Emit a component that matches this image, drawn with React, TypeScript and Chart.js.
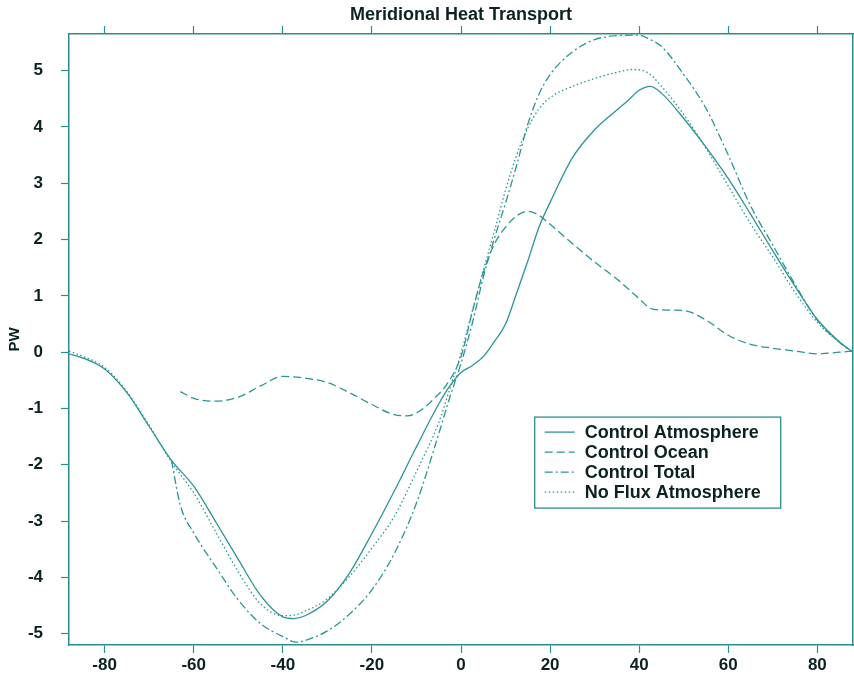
import { useEffect, useRef } from "react";
import { Chart, registerables } from "chart.js";

Chart.register(...registerables);

const TITLE = "Meridional Heat Transport";
const Y_TITLE = "PW";
const X_TICKS = [-80, -60, -40, -20, 0, 20, 40, 60, 80];
const Y_TICKS = [-5, -4, -3, -2, -1, 0, 1, 2, 3, 4, 5];
const X_MIN = -88;
const X_MAX = 88;
const Y_MIN = -5.2;
const Y_MAX = 5.65;

const SERIES_NAMES = ["Control Atmosphere", "Control Ocean", "Control Total", "No Flux Atmosphere"];

const atmLat = [-88, -85, -80, -75, -70, -65, -60, -55, -50, -45, -40, -37.5, -35, -30, -25, -20, -15, -10, -5, -2.5, 0, 2.5, 5, 7.5, 10, 12.5, 15, 17.5, 20, 25, 30, 35, 37.5, 40, 42.5, 45, 50, 55, 60, 65, 70, 75, 80, 85, 88];
const atmPW = [-0.03, -0.1, -0.3, -0.72, -1.32, -1.92, -2.38, -3.02, -3.68, -4.32, -4.7, -4.73, -4.68, -4.42, -3.92, -3.22, -2.47, -1.68, -0.92, -0.6, -0.36, -0.24, -0.08, 0.19, 0.5, 1.05, 1.62, 2.22, 2.66, 3.45, 3.95, 4.3, 4.47, 4.65, 4.72, 4.6, 4.15, 3.64, 3.08, 2.45, 1.8, 1.17, 0.58, 0.18, 0];

const oceanLat = [-63, -60, -55, -50, -45, -40, -35, -30, -25, -20, -15, -12, -9, -6, -3, 0, 2.5, 5, 7.5, 10, 12.5, 15, 17.5, 20, 25, 30, 35, 40, 42.5, 45, 50, 55, 60, 65, 70, 75, 80, 85, 88];
const oceanPW = [-0.7, -0.82, -0.87, -0.8, -0.6, -0.43, -0.46, -0.54, -0.72, -0.93, -1.11, -1.13, -1.03, -0.82, -0.55, -0.08, 0.7, 1.42, 1.92, 2.22, 2.42, 2.5, 2.43, 2.27, 1.93, 1.6, 1.3, 0.95, 0.78, 0.75, 0.74, 0.57, 0.3, 0.14, 0.07, 0.02, -0.03, 0, 0.02];

const totalLat = [-65, -63, -60, -55, -50, -45, -40, -37, -35, -30, -25, -20, -15, -10, -5, -2.5, 0, 2.5, 5, 7.5, 10, 12.5, 15, 17.5, 20, 25, 30, 35, 40, 42.5, 45, 50, 55, 60, 65, 70, 75, 80, 85, 88];
const totalPW = [-1.92, -2.72, -3.21, -3.82, -4.4, -4.82, -5.05, -5.15, -5.12, -4.95, -4.65, -4.22, -3.58, -2.68, -1.45, -0.8, -0.2, 0.5, 1.33, 2.02, 2.65, 3.32, 4.05, 4.58, 4.93, 5.33, 5.55, 5.62, 5.63, 5.55, 5.43, 4.93, 4.33, 3.5, 2.6, 1.9, 1.2, 0.57, 0.17, 0];

const noFluxLat = [-88, -85, -80, -75, -70, -65, -60, -55, -50, -45, -40, -37.5, -35, -30, -25, -20, -15, -10, -5, -2.5, 0, 2.5, 5, 7.5, 10, 12.5, 15, 17.5, 20, 25, 30, 35, 38.5, 42, 45, 50, 55, 60, 65, 70, 75, 80, 85, 88];
const noFluxPW = [0.02, -0.07, -0.27, -0.7, -1.3, -1.95, -2.5, -3.2, -3.9, -4.47, -4.68, -4.67, -4.6, -4.38, -3.98, -3.48, -2.92, -2.12, -1.25, -0.65, -0.02, 0.72, 1.45, 2.15, 2.88, 3.5, 3.98, 4.32, 4.52, 4.72, 4.86, 4.97, 5.02, 4.96, 4.72, 4.22, 3.62, 2.95, 2.28, 1.69, 1.06, 0.53, 0.17, 0];

const LINE = "#2c9494";
const FRAME = "#2a8e8e";
const TEXT = "#0c2222";
const FONT = "'Liberation Sans', Arial, Helvetica, sans-serif";

const toPoints = (xs: number[], ys: number[]) => xs.map((x, i) => ({ x, y: ys[i] }));

const legendPlugin = {
  id: "boxLegend",
  afterDraw(chart: any) {
    const { ctx, chartArea: a } = chart;
    const w = a.right - a.left;
    const h = a.bottom - a.top;
    const x0 = a.left + w * 0.594;
    const y0 = a.top + h * 0.627;
    const bw = 246;
    const bh = 91;
    ctx.save();
    ctx.fillStyle = "#ffffff";
    ctx.fillRect(x0, y0, bw, bh);
    ctx.strokeStyle = FRAME;
    ctx.lineWidth = 1.3;
    ctx.setLineDash([]);
    ctx.strokeRect(x0, y0, bw, bh);
    chart.data.datasets.forEach((ds: any, i: number) => {
      const y = y0 + 15 + i * 20;
      ctx.strokeStyle = ds.borderColor;
      ctx.lineWidth = ds.borderWidth;
      ctx.setLineDash(ds.borderDash || []);
      ctx.beginPath();
      ctx.moveTo(x0 + 10, y);
      ctx.lineTo(x0 + 40, y);
      ctx.stroke();
      ctx.setLineDash([]);
      ctx.fillStyle = TEXT;
      ctx.font = `bold 18px ${FONT}`;
      ctx.textBaseline = "middle";
      ctx.textAlign = "left";
      ctx.fillText(ds.label, x0 + 50, y + 1);
    });
    ctx.restore();
  },
};

export default function App() {
  const ref = useRef<HTMLCanvasElement | null>(null);

  useEffect(() => {
    if (!ref.current) return;
    const setXTicks = (ax: any) => {
      ax.ticks = X_TICKS.map((v) => ({ value: v }));
    };
    const setYTicks = (ax: any) => {
      ax.ticks = Y_TICKS.map((v) => ({ value: v }));
    };
    const grid = { drawOnChartArea: false, color: FRAME, tickLength: 8, tickWidth: 1.2 };
    const border = { color: FRAME, width: 1.5 };
    const base = {
      borderColor: LINE,
      borderWidth: 1.3,
      pointRadius: 0,
      fill: false,
      cubicInterpolationMode: "monotone" as const,
    };
    const chart = new Chart(ref.current, {
      type: "line",
      data: {
        datasets: [
          { ...base, label: SERIES_NAMES[0], data: toPoints(atmLat, atmPW), borderDash: [] },
          { ...base, label: SERIES_NAMES[1], data: toPoints(oceanLat, oceanPW), borderDash: [8, 4] },
          { ...base, label: SERIES_NAMES[2], data: toPoints(totalLat, totalPW), borderDash: [8, 3, 2, 3] },
          { ...base, label: SERIES_NAMES[3], data: toPoints(noFluxLat, noFluxPW), borderDash: [1.5, 2.5] },
        ],
      },
      options: {
        responsive: false,
        animation: false,
        layout: { padding: 0 },
        plugins: {
          legend: { display: false },
          tooltip: { enabled: false },
          title: { display: false },
        },
        scales: {
          x: {
            type: "linear",
            position: "bottom",
            min: X_MIN,
            max: X_MAX,
            afterBuildTicks: setXTicks,
            afterFit: (ax: any) => {
              ax.height = 34;
            },
            grid,
            border,
            ticks: {
              color: TEXT,
              font: { family: FONT, size: 17, weight: "bold" },
              padding: 2,
              maxRotation: 0,
              autoSkip: false,
              callback: (v: any) => String(v),
            },
          },
          xTop: {
            type: "linear",
            position: "top",
            min: X_MIN,
            max: X_MAX,
            afterBuildTicks: setXTicks,
            afterFit: (ax: any) => {
              ax.height = 34;
            },
            grid,
            border,
            ticks: { display: false },
            title: {
              display: true,
              text: TITLE,
              color: TEXT,
              font: { family: FONT, size: 18, weight: "bold" },
              padding: { top: 4, bottom: 0 },
            },
          },
          y: {
            type: "linear",
            position: "left",
            min: Y_MIN,
            max: Y_MAX,
            afterBuildTicks: setYTicks,
            afterFit: (ax: any) => {
              ax.width = 69;
            },
            grid,
            border,
            ticks: {
              color: TEXT,
              font: { family: FONT, size: 17, weight: "bold" },
              padding: 18,
              callback: (v: any) => String(v),
            },
            title: {
              display: true,
              text: Y_TITLE,
              color: TEXT,
              font: { family: FONT, size: 15, weight: "bold" },
              padding: { top: 6, bottom: 0 },
            },
          },
          yRight: {
            type: "linear",
            position: "right",
            min: Y_MIN,
            max: Y_MAX,
            grid: { display: false },
            border,
            ticks: { display: false },
            afterFit: (ax: any) => {
              ax.width = 1;
            },
          },
        },
      },
      plugins: [legendPlugin],
    });
    return () => chart.destroy();
  }, []);

  return (
    <div style={{ position: "absolute", left: 0, top: 0, width: 854, height: 679, background: "#fff" }}>
      <canvas ref={ref} width={854} height={679} style={{ display: "block" }} />
    </div>
  );
}
